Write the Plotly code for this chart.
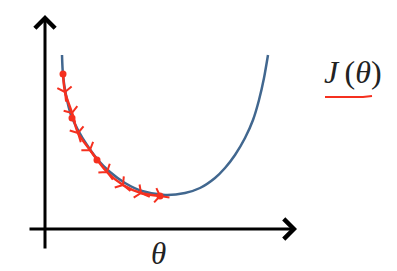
import plotly.graph_objects as go

# Cost curve J(theta) (theta, J) in chart units
curve_theta = [17, 18, 21, 26, 33, 42, 53, 65, 80, 97, 120, 140, 155, 170, 180, 190, 200, 208, 214, 219, 223]
curve_J = [174, 154, 134, 114, 99, 84, 69, 57, 46, 38, 34, 36, 41, 51, 61, 74, 91, 109, 129, 151, 174]

# Gradient descent path (hand-drawn steps)
path_theta = [18, 20, 27, 33, 45, 62, 78, 96, 115]
path_J = [155, 137, 116, 96, 79, 57, 44, 36, 33]

# Highlighted points on the path
dot_theta = [18, 27, 52, 115]
dot_J = [155, 111, 69, 33]

BLUE = "#41678f"
RED = "#f5301f"

fig = go.Figure()
fig.add_trace(go.Scatter(x=curve_theta, y=curve_J, mode="lines",
                         line=dict(color=BLUE, width=2.5, shape="spline", smoothing=0.8),
                         hoverinfo="skip"))
fig.add_trace(go.Scatter(x=path_theta, y=path_J, mode="lines+markers",
                         line=dict(color=RED, width=2.5, shape="spline", smoothing=0.8),
                         marker=dict(symbol="y-up", size=12, angleref="previous",
                                     line=dict(color=RED, width=2)),
                         hoverinfo="skip"))
fig.add_trace(go.Scatter(x=dot_theta, y=dot_J, mode="markers",
                         marker=dict(color=RED, size=7), hoverinfo="skip"))

ann = []
# axes as arrows
ann.append(dict(x=0, y=214, ax=0, ay=-21, xref="x", yref="y", axref="x", ayref="y",
                showarrow=True, arrowhead=4, arrowwidth=3, arrowsize=1.3, arrowcolor="black", text=""))
ann.append(dict(x=252, y=0, ax=-17, ay=0, xref="x", yref="y", axref="x", ayref="y",
                showarrow=True, arrowhead=4, arrowwidth=3, arrowsize=1.3, arrowcolor="black", text=""))
ann.append(dict(x=113, y=-24, xref="x", yref="y", text="<i>θ</i>", showarrow=False,
                font=dict(family="Liberation Serif", size=31, color="#222")))
ann.append(dict(x=308, y=157, xref="x", yref="y", text="<i>J</i>\u2009(<i>θ</i>)", showarrow=False,
                font=dict(family="Liberation Serif", size=32, color="#222")))

fig.update_layout(
    width=397, height=271, margin=dict(l=0, r=0, t=0, b=0),
    paper_bgcolor="white", plot_bgcolor="white", showlegend=False,
    xaxis=dict(range=[-45, 352], visible=False, fixedrange=True),
    yaxis=dict(range=[-42, 229], visible=False, fixedrange=True),
    annotations=ann,
    shapes=[dict(type="path", xref="x", yref="y",
                 path="M 280 132 L 318 132 L 327 133",
                 line=dict(color=RED, width=2))],
)
fig.write_html("out.html")
